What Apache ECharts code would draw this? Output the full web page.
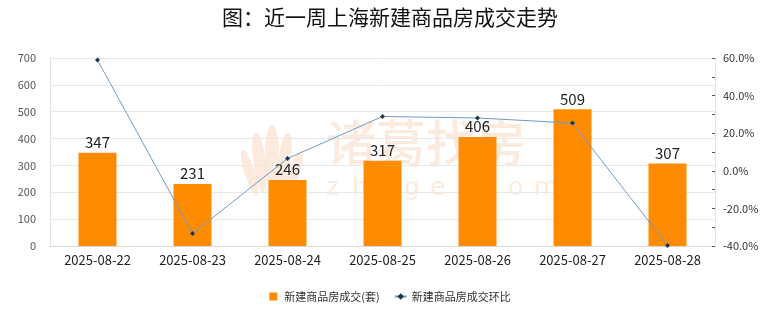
<!DOCTYPE html>
<html>
<head>
<meta charset="utf-8">
<script src="https://cdn.jsdelivr.net/npm/echarts@6/dist/echarts.min.js"></script>
<style>
html,body{margin:0;padding:0;background:#fff;}
#chart{width:780px;height:328px;}
</style>
</head>
<body>
<div id="chart"></div>
<script>
// Daily new-home transactions in Shanghai over the last week
const dates = ['2025-08-22','2025-08-23','2025-08-24','2025-08-25','2025-08-26','2025-08-27','2025-08-28'];
const deals = [347, 231, 246, 317, 406, 509, 307];
const changePct = [58.9, -33.4, 6.5, 28.9, 28.1, 25.4, -39.7];
const countTicks = [0, 100, 200, 300, 400, 500, 600, 700];
const pctTicks = [-40, -20, 0, 20, 40, 60];

const FONT = '"Noto Sans CJK SC", "Noto Sans", sans-serif';
const WM = 'rgba(244,190,150,0.32)';

// Background brand mark: petal logo, name and spaced domain
const watermark = [];
const petals = [
  { dx: 0, w: 7, h: 66, rot: 0 },
  { dx: -9, w: 6, h: 60, rot: 0.12 },
  { dx: 9, w: 6, h: 60, rot: -0.12 },
  { dx: -16, w: 5, h: 48, rot: 0.3 },
  { dx: 16, w: 5, h: 48, rot: -0.3 }
];
petals.forEach(p => {
  watermark.push({
    type: 'polygon', silent: true, z: -10,
    x: 272, y: 191, rotation: p.rot,
    shape: { points: [[p.dx, 0], [p.dx - p.w, -p.h * 0.55], [p.dx, -p.h], [p.dx + p.w, -p.h * 0.55]], smooth: 0.6 },
    style: { fill: WM }
  });
});
watermark.push({
  type: 'text', x: 326, y: 118, silent: true, z: -10,
  style: { text: '诸葛找房', fontSize: 50, fontWeight: 500, fill: WM, fontFamily: FONT }
});
'zhuge.com'.split('').forEach((ch, i) => {
  watermark.push({
    type: 'text', x: 326 + i * 26, y: 176, silent: true, z: -10,
    style: { text: ch, fontSize: 25, fill: WM, fontFamily: '"DejaVu Sans", sans-serif' }
  });
});

const chart = echarts.init(document.getElementById('chart'));

chart.setOption({
  animation: false,
  textStyle: { fontFamily: FONT },
  title: {
    text: '图：近一周上海新建商品房成交走势',
    left: 'center',
    top: 2,
    textStyle: { fontSize: 21, fontWeight: 'normal', color: '#111', fontFamily: FONT }
  },
  graphic: { elements: watermark },
  legend: {
    bottom: 21,
    left: 'center',
    itemGap: 14,
    itemWidth: 12,
    itemHeight: 8,
    textStyle: { fontSize: 11, color: '#333' },
    data: [
      { name: '新建商品房成交(套)', icon: 'path://M0,0H8V8H0Z', itemStyle: { color: '#FF8C00' } },
      { name: '新建商品房成交环比' }
    ]
  },
  grid: { left: 50, right: 65, top: 58, bottom: 82 },
  xAxis: {
    type: 'category',
    data: dates,
    axisLine: { lineStyle: { color: '#d9d9d9' } },
    axisTick: { show: false },
    axisLabel: { fontSize: 13, color: '#222', margin: 8 }
  },
  yAxis: [
    {
      type: 'value',
      min: countTicks[0],
      max: countTicks[countTicks.length - 1],
      interval: 100,
      axisLine: { show: true, lineStyle: { color: '#e3e3e3' } },
      axisTick: { show: false },
      axisLabel: { fontSize: 11, color: '#555', margin: 14 },
      splitLine: { lineStyle: { color: '#e8e8e8' } }
    },
    {
      type: 'value',
      min: pctTicks[0],
      max: pctTicks[pctTicks.length - 1],
      interval: 20,
      position: 'right',
      axisLine: { show: true, lineStyle: { color: '#e3e3e3' } },
      axisTick: { show: true, inside: true, length: 3, lineStyle: { color: '#555' } },
      minorTick: { show: true, splitNumber: 2, length: 3, lineStyle: { color: '#555' } },
      axisLabel: { fontSize: 11, color: '#333', margin: 8, formatter: v => v.toFixed(1) + '%' },
      splitLine: { show: false }
    }
  ],
  series: [
    {
      name: '新建商品房成交(套)',
      type: 'bar',
      data: deals,
      barWidth: '40%',
      itemStyle: { color: '#FF8C00' },
      label: { show: true, position: 'top', fontSize: 15, color: '#222', distance: 3 },
      z: 2
    },
    {
      name: '新建商品房成交环比',
      type: 'line',
      yAxisIndex: 1,
      data: changePct,
      symbol: 'diamond',
      symbolSize: 5,
      lineStyle: { color: '#6f9cc6', width: 1 },
      itemStyle: { color: '#1d3650' },
      z: 3
    }
  ]
});
</script>
</body>
</html>
